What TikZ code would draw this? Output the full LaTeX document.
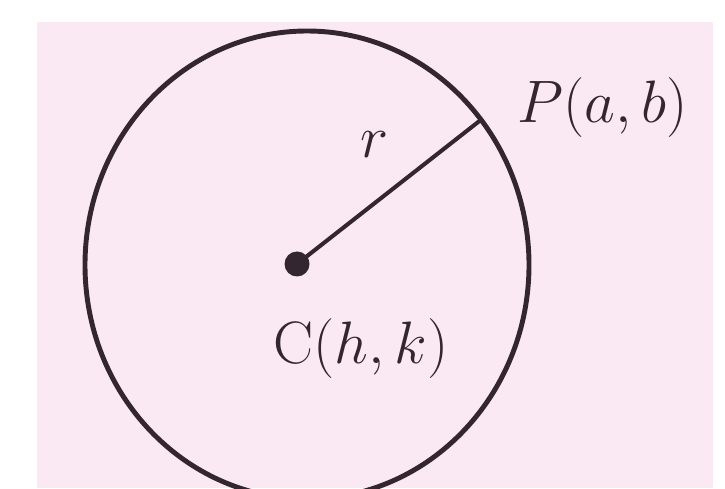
\documentclass[tikz,border=0pt]{standalone}
\usepackage{amsmath}
\usetikzlibrary{positioning}

\definecolor{bgpink}{RGB}{250,233,243}
\definecolor{inkdark}{RGB}{52,38,48}

\tikzset{
	lbl/.style={font=\Huge, text=inkdark, inner sep=0pt, scale=1.37, transform shape},
	ctrdot/.style={circle, fill=inkdark, inner sep=0pt, minimum size=0.5cm}
}

\begin{document}
\begin{tikzpicture}
		\useasboundingbox (0, 0) rectangle (14.5, 9.76);
		% Fundo
		\fill[bgpink] (0.74, 0) rectangle (14.26, 9.32);
		% Circulo
		\draw[line width=2.8pt, inkdark] (6.14, 4.46) ellipse [x radius=4.44, y radius=4.68];
		% Centro e ponto
		\node[ctrdot] (C) at (5.94, 4.48) {};
		\coordinate (P) at (9.64, 7.38);
		\draw[line width=2.3pt, inkdark] (C.center) -- (P);
		% Rotulos
		\node[lbl] (rlab) at (7.50, 6.86) {$r$};
		\node[lbl, anchor=west] (Plab) at (10.34, 7.60) {$P(a, b)$};
		\node[lbl] (Clab) at (7.22, 2.78) {$\mathrm{C}(h, k)$};
	\end{tikzpicture}
\end{document}
